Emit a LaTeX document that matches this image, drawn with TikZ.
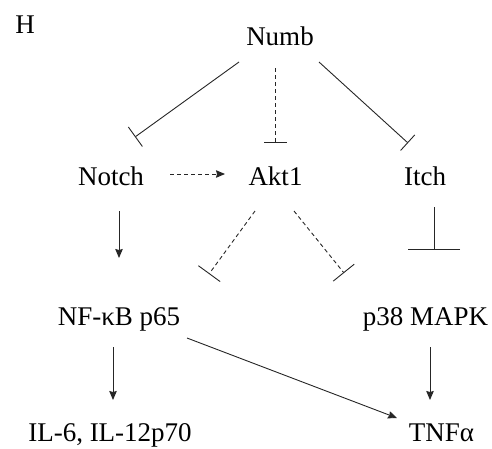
\documentclass[tikz,border=0pt]{standalone}
\usepackage{fontspec}
\setmainfont{Liberation Serif}
\usetikzlibrary{arrows.meta,calc}
\begin{document}
\begin{tikzpicture}[x=1pt,y=-1pt,
  lbl/.style={anchor=base,inner sep=0pt,font=\fontsize{27}{32}\selectfont},
  conn/.style={line width=0.9pt,draw=black!85},
  act/.style={conn,-{Stealth[length=9pt,width=7.5pt,inset=1pt]}},
  inh/.style={conn,-{Bar[width=#1,line width=0.9pt]}},
  inh/.default=24pt,
  dsh/.style={dash pattern=on 4pt off 3pt}]
\useasboundingbox (0,0) rectangle (492,448);
\node[lbl] (H) at (25,33) {H};
\node[lbl] (numb) at (280,45) {Numb};
\node[lbl] (notch) at (111,185) {Notch};
\node[lbl] (akt) at (275.5,185) {Akt1};
\node[lbl] (itch) at (425,185) {Itch};
\node[lbl] (nfkb) at (119,325) {NF-κB p65};
\node[lbl] (p38) at (425.5,325) {p38 MAPK};
\node[lbl] (il) at (110,441) {IL-6, IL-12p70};
\node[lbl] (tnf) at (441.5,441) {TNFα};
% Numb inhibitions
\draw[inh=24pt] ($(numb.base)+(-41,17)$) -- ($(notch.base)+(24,-48)$);
\draw[inh=23pt,dsh] ($(numb.base)+(-5,23)$) -- ($(akt.base)+(-0.5,-42)$);
\draw[inh=21pt] ($(numb.base)+(39,17)$) -- ($(itch.base)+(-17,-42)$);
% Notch
\draw[act,dsh] ($(notch.base)+(59,-11)$) -- ($(akt.base)+(-50.5,-11)$);
\draw[act] ($(notch.base)+(8,26)$) -- ($(nfkb.base)+(0,-67)$);
% Akt1
\draw[inh=27pt,dsh] ($(akt.base)+(-20.5,26)$) -- ($(nfkb.base)+(90,-51)$);
\draw[inh=27pt,dsh] ($(akt.base)+(18.5,26)$) -- ($(p38.base)+(-81.5,-52)$);
% Itch
\draw[inh=52pt] ($(itch.base)+(9,22)$) -- ($(p38.base)+(8.5,-75)$);
% lower
\draw[act] ($(nfkb.base)+(-6,22)$) -- ($(il.base)+(3,-41)$);
\draw[act] ($(nfkb.base)+(68,13)$) -- ($(tnf.base)+(-44.5,-23)$);
\draw[act] ($(p38.base)+(4.5,22)$) -- ($(tnf.base)+(-11.5,-41)$);
\end{tikzpicture}
\end{document}
